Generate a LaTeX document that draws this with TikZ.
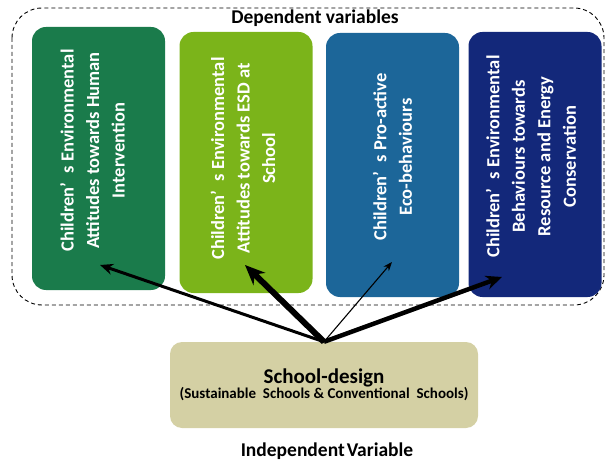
\documentclass[tikz,border=0pt]{standalone}
\usepackage{fontspec}
\setmainfont{Carlito}
\usepackage{xcolor}
\usetikzlibrary{arrows.meta, calc}
\definecolor{attgreen}{HTML}{1A7B4B}
\definecolor{esdgreen}{HTML}{7BB41A}
\definecolor{ecoblue}{HTML}{1C6699}
\definecolor{consnavy}{HTML}{13287A}
\definecolor{schoolbeige}{HTML}{D4D0A4}

\begin{document}
\begin{tikzpicture}[x=1pt, y=-1pt, >={Stealth[length=13pt, width=11pt]},
                    depvar/.style={rounded corners=14pt, minimum width=133pt, inner sep=0pt},
                    boxtext/.style={rotate=90, align=center, text=white, font=\fontsize{18.5}{25.5}\selectfont\bfseries},
                    link/.style={->, draw=black}]
  \useasboundingbox (0,0) rectangle (607,462);

  % dependent variables
  \draw[dashed, dash pattern=on 4pt off 3pt, line width=0.9pt, rounded corners=30pt] (12,8) rectangle (604,305);
  \node[font=\fontsize{19.5}{22}\selectfont\bfseries] (dep) at (315,18) {Dependent variables};

  \node[depvar, fill=attgreen, minimum height=263pt] (human) at (98.5,158.5) {};
  \node[depvar, fill=esdgreen, minimum height=261pt] (esd) at (246,162.5) {};
  \node[depvar, fill=ecoblue, minimum height=264pt] (eco) at (392.5,165) {};
  \node[depvar, fill=consnavy, minimum height=265pt] (cons) at (535,164.5) {};

  \node[boxtext] (humantxt) at ($(human.center)+(-6,-8)$) {Children’\hspace{0.5em}s Environmental\\Attitudes towards Human\\Intervention};
  \node[boxtext] (esdtxt) at ($(esd.center)+(-3,-4)$) {Children’\hspace{0.5em}s Environmental\\Attitudes towards ESD at\\School};
  \node[boxtext] (ecotxt) at ($(eco.center)+(0,-8)$) {Children’\hspace{0.5em}s Pro-active\\Eco-behaviours};
  \node[boxtext] (constxt) at ($(cons.center)+(-4,-8)$) {Children’\hspace{0.5em}s Environmental\\Behaviours towards\\Resource and Energy\\Conservation};

  % independent variable
  \node[fill=schoolbeige, rounded corners=12pt, minimum width=308pt, minimum height=86pt, align=center] (school) at (324,385)
        {{\fontsize{21}{24}\selectfont\bfseries School-design}\\[-1pt]{\fontsize{15}{18}\selectfont\bfseries (Sustainable\ \ Schools \& Conventional\ \ Schools)}};
  \node[font=\fontsize{19.5}{22}\selectfont\bfseries] (indep) at (327,451) {Independent\hspace{0.1em}Variable};

  \coordinate (t1) at (100,265);
  \coordinate (t2) at (245,265);
  \coordinate (t3) at (392,262);
  \coordinate (t4) at (502,277);

  \draw[link, line width=3pt] (school.north) -- (t1);
  \draw[link, line width=6pt, >={Stealth[length=20pt, width=17pt]}] (school.north) -- (t2);
  \draw[link, line width=1.1pt, >={Stealth[length=9pt, width=7pt]}] (school.north) -- (t3);
  \draw[link, line width=4.5pt, >={Stealth[length=16pt, width=14pt]}] (school.north) -- (t4);
\end{tikzpicture}
\end{document}
